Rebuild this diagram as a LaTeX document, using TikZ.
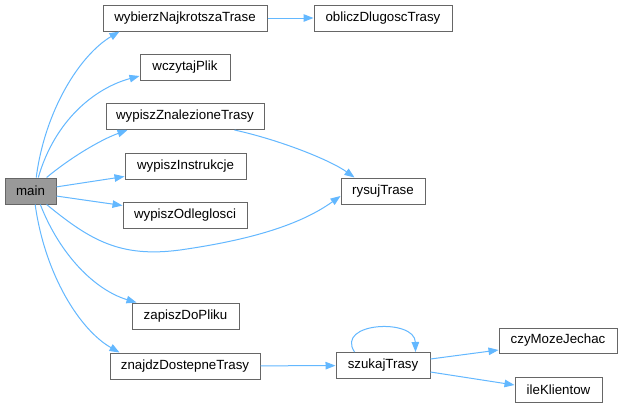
\documentclass[tikz,border=0pt]{standalone}
\usepackage{fontspec}
\setmainfont{Liberation Sans}
\usetikzlibrary{arrows.meta,calc}
\definecolor{edgeblue}{HTML}{63B8FF}
\definecolor{boxgray}{HTML}{666666}
\definecolor{mainfill}{HTML}{999999}
\tikzset{
  fn/.style={draw=boxgray,line width=1pt,fill=white,inner sep=0pt,minimum height=26pt,
    font=\fontsize{13.3}{15}\selectfont,text=black},
  mainfn/.style={fn,fill=mainfill},
  edge/.style={draw=edgeblue,line width=1pt,-{Triangle[length=10pt,width=7.5pt]}}
}
\begin{document}
\begin{tikzpicture}[x=1pt,y=-1pt]
\useasboundingbox[fill=white] (0,0) rectangle (623,408);
\node[mainfn,minimum width=51pt] (main) at (30.5,191) {main};
\node[fn,minimum width=164pt] (wybierz) at (185,18) {wybierzNajkrotszaTrase};
\node[fn,minimum width=138pt] (oblicz) at (383,18) {obliczDlugoscTrasy};
\node[fn,minimum width=90pt] (wczytaj) at (185,67) {wczytajPlik};
\node[fn,minimum width=158pt] (wypiszZ) at (185,116.5) {wypiszZnalezioneTrasy};
\node[fn,minimum width=121pt] (wypiszI) at (185.5,166) {wypiszInstrukcje};
\node[fn,minimum width=124pt] (wypiszO) at (185,215) {wypiszOdleglosci};
\node[fn,minimum width=84pt] (rysuj) at (383,191) {rysujTrase};
\node[fn,minimum width=107pt] (zapisz) at (185.5,316) {zapiszDoPliku};
\node[fn,minimum width=150pt] (znajdz) at (185,366) {znajdzDostepneTrasy};
\node[fn,minimum width=94pt] (szukaj) at (383,365.5) {szukajTrasy};
\node[fn,minimum width=118pt,minimum height=25pt] (czy) at (558,340.5) {czyMozeJechac};
\node[fn,minimum width=87pt,minimum height=25pt] (ile) at (558.5,389.5) {ileKlientow};

\draw[edge] (main.67) .. controls (45,110) and (80,55) .. ($(wybierz.south west)+(17,0)$);
\draw[edge] (main.60) .. controls (55,120) and (95,88) .. ($(wczytaj.west)+(0,9)$);
\draw[edge] (main.40) .. controls (70,158) and (100,140) .. ($(wypiszZ.south west)+(22,0)$);
\draw[edge] (main.9) -- ($(wypiszI.south west)+(0,-3)$);
\draw[edge] (main.-11) -- ($(wypiszO.north west)+(0,4)$);
\draw[edge] (main.-40) .. controls (90,240) and (120,258) .. (180,250) .. controls (250,240) and (300,225) .. ($(rysuj.west)+(0,5)$);
\draw[edge] ($(wypiszZ.south east)+(-30,0)$) .. controls (280,140) and (330,160) .. ($(rysuj.north west)+(14,0)$);
\draw[edge] (wybierz) -- (oblicz);
\draw[edge] (main.-54) .. controls (60,255) and (95,290) .. ($(zapisz.north west)+(5,0)$);
\draw[edge] (main.-71) .. controls (45,275) and (80,330) .. ($(znajdz.north west)+(10,0)$);
\draw[edge] (znajdz) -- (szukaj);
\draw[edge] ($(szukaj.north west)+(19,0)$) .. controls (335,322) and (415,318) .. ($(szukaj.north east)+(-15,0)$);
\draw[edge] ($(szukaj.east)+(0,-6.5)$) -- ($(czy.west)+(0,9.5)$);
\draw[edge] ($(szukaj.east)+(0,6.5)$) -- ($(ile.west)+(0,-4.5)$);
\end{tikzpicture}
\end{document}
